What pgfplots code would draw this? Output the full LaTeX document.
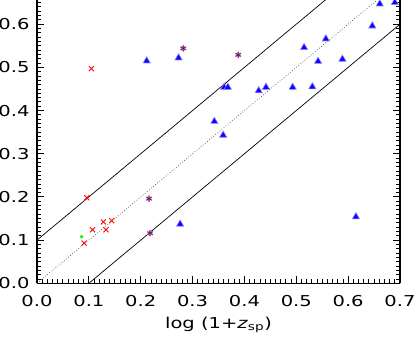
\documentclass[border=0pt]{standalone}
\usepackage{fontspec}
\setmainfont{DejaVu Sans}[FakeStretch=1.3]
\usepackage{pgfplots}
\pgfplotsset{compat=1.18}
\definecolor{pur}{RGB}{95,25,95}
\definecolor{purhalo}{RGB}{215,130,200}
\definecolor{tri}{RGB}{20,0,255}
\definecolor{trihalo}{RGB}{140,140,255}
\begin{document}
\begin{tikzpicture}[font=\fontsize{15}{18}\selectfont]
\useasboundingbox (0,0) rectangle (415pt,338pt);
\begin{axis}[
  at={(37pt,54.7pt)}, anchor=south west,
  scale only axis, width=363pt, height=283.3pt,
  xmin=0, xmax=0.7, ymin=0, ymax=0.656,
  axis x line*=bottom, axis y line*=box,
  xtick={0,0.1,0.2,0.3,0.4,0.5,0.6,0.7},
  ytick={0,0.1,0.2,0.3,0.4,0.5,0.6},
  xticklabels={0.0,0.1,0.2,0.3,0.4,0.5,0.6,0.7},
  yticklabels={0.0,0.1,0.2,0.3,0.4,0.5,0.6},
  minor xtick={0,0.01,...,0.7},
  minor ytick={0,0.01,...,0.65},
  tick align=inside,
  major tick length=7pt, minor tick length=4pt,
  axis line style={line width=1.1pt},
  major tick style={draw=black, line width=1pt},
  minor tick style={draw=black, line width=0.9pt},
  xticklabel style={yshift=-9pt},
  yticklabel style={xshift=-4pt},
  tick label style={font=\fontsize{15}{18}\selectfont},
  xlabel={log (1+\textit{z}\textsubscript{sp})},
  xlabel style={at={(axis description cs:0.5,0)}, anchor=north, yshift=-30.5pt, font=\fontsize{15}{18}\selectfont},
  clip=false,
]
\addplot[black, line width=0.7pt] coordinates {(0,0.1) (0.556,0.656)};
\addplot[black, line width=0.7pt] coordinates {(0.1,0) (0.7,0.6)};
\addplot[black!70, line width=0.7pt, dotted] coordinates {(0,0) (0.656,0.656)};
% red crosses
\addplot[only marks, mark=x, mark size=3.6pt, red, mark options={line width=0.9pt}] coordinates {
(0.105,0.497) (0.096,0.198) (0.091,0.093) (0.107,0.124) (0.128,0.142) (0.133,0.124) (0.144,0.145)
};
% green dot
\addplot[only marks, mark=*, mark size=1.6pt, green] coordinates {(0.086,0.108)};
% purple asterisks
\addplot[only marks, mark=asterisk, mark size=3.2pt, purhalo, mark options={line width=1.6pt}] coordinates {
(0.282,0.544) (0.388,0.529) (0.216,0.196) (0.218,0.116)
};
\addplot[only marks, mark=asterisk, mark size=3pt, pur, mark options={line width=0.7pt}] coordinates {
(0.282,0.544) (0.388,0.529) (0.216,0.196) (0.218,0.116)
};
% blue triangles
\addplot[only marks, mark=triangle*, mark size=4.2pt, mark options={fill=tri, draw=trihalo, line width=0.6pt}] coordinates {
(0.2115,0.515) (0.273,0.522) (0.361,0.454) (0.368,0.454) (0.4275,0.446) (0.4416,0.454)
(0.342,0.375) (0.359,0.343) (0.661,0.647) (0.690,0.650) (0.6466,0.596) (0.515,0.546)
(0.557,0.566) (0.542,0.514) (0.589,0.519) (0.493,0.454) (0.531,0.455) (0.276,0.137)
(0.615,0.154)
};
\end{axis}
\end{tikzpicture}
\end{document}
